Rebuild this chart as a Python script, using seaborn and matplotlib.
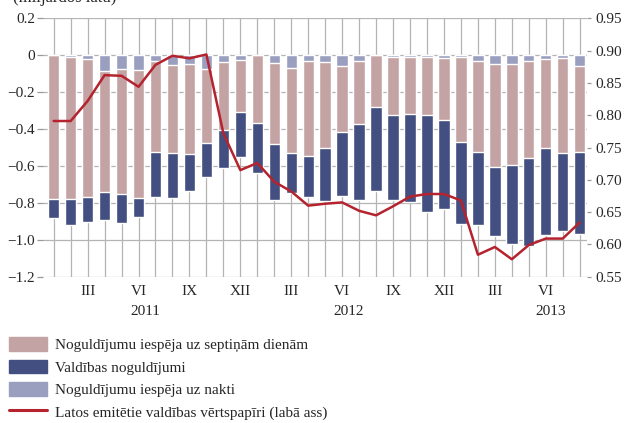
import numpy as np
import pandas as pd
import matplotlib
matplotlib.use('Agg')
import matplotlib.pyplot as plt
from matplotlib.patches import Patch
from matplotlib.lines import Line2D
import seaborn as sns

# ===================== 数据 =====================
months = list(range(32))  # I 2011 ... VIII 2013
month_labels = ['', '', 'III', '', '', 'VI', '', '', 'IX', '', '', 'XII',
                '', '', 'III', '', '', 'VI', '', '', 'IX', '', '', 'XII',
                '', '', 'III', '', '', 'VI', '', '']
years = ['2011', '2012', '2013']
year_pos = [5.4, 17.4, 29.3]

# noguldījumu iespēja uz nakti
overnight = [0.000, -0.012, -0.023, -0.084, -0.073, -0.079, -0.034, -0.053,
             -0.045, -0.075, -0.038, -0.028, 0.000, -0.041, -0.069, -0.034,
             -0.038, -0.059, -0.034, 0.000, -0.011, -0.007, -0.012, -0.016,
             -0.012, -0.030, -0.045, -0.050, -0.034, -0.023, -0.016, -0.061]
# noguldījumu iespēja uz septiņām dienām
seven_day = [-0.780, -0.768, -0.744, -0.656, -0.680, -0.692, -0.492, -0.479,
             -0.488, -0.399, -0.368, -0.278, -0.366, -0.441, -0.463, -0.510,
             -0.467, -0.359, -0.336, -0.282, -0.312, -0.313, -0.311, -0.334,
             -0.457, -0.493, -0.559, -0.545, -0.521, -0.482, -0.516, -0.465]
# valdības noguldījumi
government = [-0.100, -0.138, -0.135, -0.155, -0.154, -0.106, -0.241, -0.239,
              -0.201, -0.186, -0.207, -0.247, -0.271, -0.301, -0.213, -0.222,
              -0.284, -0.347, -0.412, -0.453, -0.460, -0.474, -0.527, -0.485,
              -0.444, -0.395, -0.377, -0.427, -0.476, -0.467, -0.422, -0.442]
# latos emitētie valdības vērtspapīri (labā ass)
securities = [0.791, 0.791, 0.822, 0.862, 0.861, 0.844, 0.878, 0.892,
              0.888, 0.894, 0.772, 0.715, 0.726, 0.697, 0.682, 0.660,
              0.663, 0.665, 0.652, 0.645, 0.659, 0.674, 0.678, 0.678,
              0.668, 0.584, 0.596, 0.577, 0.599, 0.609, 0.609, 0.634]

left_ticks = [0.2, 0, -0.2, -0.4, -0.6, -0.8, -1.0, -1.2]
left_labels = ['0.2', '0', '\u22120.2', '\u22120.4', '\u22120.6', '\u22120.8', '\u22121.0', '\u22121.2']
right_ticks = [0.55, 0.60, 0.65, 0.70, 0.75, 0.80, 0.85, 0.90, 0.95]

series_names = ['Noguldījumu iespēja uz septiņām dienām',
                'Valdības noguldījumi',
                'Noguldījumu iespēja uz nakti',
                'Latos emitētie valdības vērtspapīri (labā ass)']

C_PINK = '#c4a3a4'
C_DARK = '#434f80'
C_LIGHT = '#9a9fbf'
C_RED = '#b5232e'
C_GRID = '#b4b4b4'

df = pd.DataFrame({'month': months, 'overnight': overnight,
                   'seven': seven_day, 'gov': government, 'sec': securities})
df['lvl1'] = df['overnight']
df['lvl2'] = df['lvl1'] + df['seven']
df['lvl3'] = df['lvl2'] + df['gov']

# ===================== 绘图 =====================
sns.set_style('white')
plt.rcParams['font.family'] = ['Liberation Serif', 'DejaVu Serif']
plt.rcParams['axes.unicode_minus'] = True

fig = plt.figure(figsize=(6.24, 4.23), dpi=100)
ax = fig.add_axes([43 / 624, 1 - 276.7 / 423, 544 / 624, 258.4 / 423])

# stacked (negative) bars drawn as overlaid cumulative levels
sns.barplot(data=df, x='month', y='lvl3', color=C_DARK, width=0.67,
            saturation=1, ax=ax, zorder=2)
sns.barplot(data=df, x='month', y='lvl2', color=C_PINK, width=0.67,
            saturation=1, ax=ax, zorder=3)
sns.barplot(data=df, x='month', y='lvl1', color=C_LIGHT, width=0.67,
            saturation=1, ax=ax, zorder=4)

ax.set_xlim(-0.63, 31.43)
ax.set_ylim(-1.2, 0.2)
ax.set_yticks(left_ticks)
ax.set_yticklabels(left_labels)
ax.set_xticks(months)
ax.set_xticklabels(month_labels)
ax.set_xlabel('')
ax.set_ylabel('')
ax.grid(True, color=C_GRID, lw=0.9)
ax.set_axisbelow(True)
for s in ax.spines.values():
    s.set_visible(False)
ax.tick_params(axis='y', length=4, width=0.9, color='#999999', labelsize=11, pad=1.5)
ax.tick_params(axis='x', length=4, width=0.9, color=C_GRID, labelsize=11, pad=2)

for yr, xp in zip(years, year_pos):
    ax.text(xp, -0.135, yr, transform=ax.get_xaxis_transform(),
            ha='center', va='center', fontsize=11)

ax2 = ax.twinx()
sns.lineplot(x=months, y=securities, color=C_RED, lw=1.8, ax=ax2, sort=False)
ax2.set_ylim(0.55, 0.95)
ax2.set_yticks(right_ticks)
ax2.set_yticklabels([f'{v:.2f}' for v in right_ticks])
ax2.set_xlim(-0.63, 31.43)
for s in ax2.spines.values():
    s.set_visible(False)
ax2.tick_params(axis='y', length=3, width=0.9, color='#999999', labelsize=11, pad=3)
ax2.grid(False)

# unit label, partly cut by the top edge as in the original
fig.text(13 / 624, 1 - 2 / 423, '(miljardos latu)', fontsize=12, va='baseline', ha='left')

handles = [Patch(color=C_PINK), Patch(color=C_DARK), Patch(color=C_LIGHT),
           Line2D([0], [0], color=C_RED, lw=2.2)]
fig.legend(handles, series_names, loc='upper left',
           bbox_to_anchor=(9 / 624, 1 - 337 / 423), frameon=False,
           fontsize=11, handlelength=2.5, handleheight=1.0,
           handletextpad=0.52, labelspacing=0.48, borderpad=0, borderaxespad=0)

plt.savefig('out.png', dpi=100)
plt.close()
